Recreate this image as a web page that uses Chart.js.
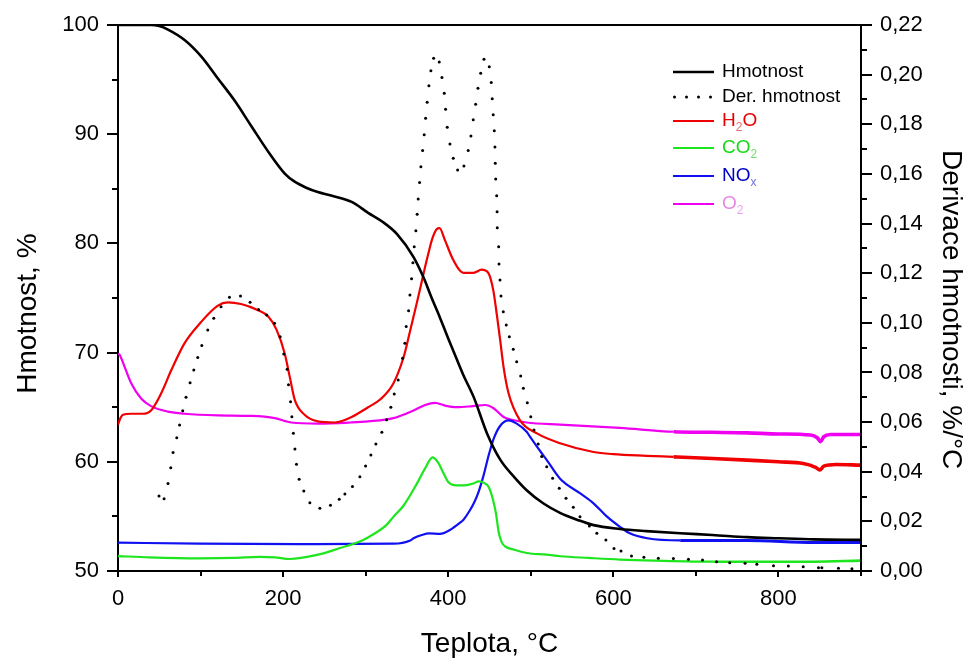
<!DOCTYPE html>
<html lang="cs">
<head>
<meta charset="utf-8">
<title>Hmotnost a vývoj plynů</title>
<script src="https://cdn.jsdelivr.net/npm/chart.js@4/dist/chart.umd.min.js"></script>
<style>
  html, body { margin: 0; padding: 0; background: #ffffff; }
  #wrap { width: 972px; height: 658px; }
</style>
</head>
<body>
<div id="wrap"><canvas id="c" width="972" height="658"></canvas></div>
<script>
// ---- Teplota (°C) a naměřené hodnoty ----
const massT   = [0, 20, 40, 50, 60, 81, 101, 121, 141, 161, 182, 202, 214, 228, 242, 257, 283, 303, 320, 338, 358, 370, 380, 390, 400, 406, 418, 431, 447, 463, 480, 495, 515, 536, 556, 576, 608, 640, 681, 720, 762, 800, 843, 900];
const massVal = [100, 100, 100, 99.9, 99.6, 98.6, 97.1, 95.1, 93.1, 90.8, 88.4, 86.4, 85.65, 85.1, 84.7, 84.4, 83.8, 82.8, 82.0, 80.85, 78.75, 76.9, 75.0, 73.2, 71.3, 70.2, 68.0, 65.9, 62.6, 60.2, 58.6, 57.4, 56.2, 55.3, 54.7, 54.2, 53.85, 53.65, 53.45, 53.3, 53.1, 53.0, 52.9, 52.85];

const derT   = [49.7, 55.8, 60.6, 63.9, 66.7, 71.2, 74.6, 78.4, 82.4, 87.3, 91.8, 96.6, 101.5, 108.7, 116.0, 124.8, 135.0, 148.4, 160.0, 170.2, 180.2, 189.6, 196.4, 200.8, 204.9, 206.5, 209.0, 210.6, 212.4, 214.3, 216.2, 219.4, 225.1, 232.4, 244.5, 257.4, 268.0, 274.8, 284.0, 293.0, 299.9, 306.3, 312.4, 319.6, 325.3, 330.5, 334.6, 339.4, 344.7, 347.5, 349.1, 352.0, 353.6, 355.6, 357.2, 358.8, 360.8, 362.4, 363.6, 365.3, 366.9, 369.0, 370.9, 372.6, 374.5, 376.6, 379.0, 382.3, 389.1, 392.4, 395.2, 396.8, 398.8, 402.1, 406.1, 411.4, 419.0, 424.2, 427.5, 430.3, 433.2, 436.0, 439.3, 443.3, 449.7, 452.1, 453.3, 454.5, 455.8, 456.6, 457.0, 457.5, 458.7, 459.2, 459.4, 461.1, 461.5, 462.7, 463.9, 466.7, 470.3, 474.0, 478.8, 482.9, 487.8, 491.0, 495.8, 500.0, 503.9, 509.0, 513.2, 519.3, 526.5, 534.5, 542.7, 551.5, 559.6, 571.0, 580.0, 591.0, 600.8, 609.3, 622, 637, 654.5, 672.7, 691, 708, 725, 741, 759.6, 773.8, 794, 812, 830, 848.5, 852.6, 872.7, 889];
const derVal = [0.0302, 0.0291, 0.0353, 0.0416, 0.0477, 0.0537, 0.0588, 0.0646, 0.0700, 0.0759, 0.0810, 0.0860, 0.0909, 0.0971, 0.1018, 0.1065, 0.1103, 0.1108, 0.1083, 0.1054, 0.1032, 0.0998, 0.0944, 0.0874, 0.0813, 0.0750, 0.0682, 0.0622, 0.0555, 0.0492, 0.0430, 0.0370, 0.0322, 0.0275, 0.0253, 0.0265, 0.0289, 0.0310, 0.0340, 0.0380, 0.0423, 0.0467, 0.0512, 0.0559, 0.0609, 0.0660, 0.0713, 0.0770, 0.0857, 0.0918, 0.0985, 0.1049, 0.1112, 0.1178, 0.1242, 0.1307, 0.1371, 0.1437, 0.1499, 0.1565, 0.1629, 0.1694, 0.1758, 0.1824, 0.1889, 0.1955, 0.2016, 0.2066, 0.2051, 0.1988, 0.1925, 0.1861, 0.1788, 0.1721, 0.1663, 0.1616, 0.1632, 0.1694, 0.1753, 0.1818, 0.1881, 0.1945, 0.2006, 0.2062, 0.2032, 0.1968, 0.1903, 0.1838, 0.1774, 0.1708, 0.1643, 0.1579, 0.1512, 0.1448, 0.1383, 0.1307, 0.1237, 0.1173, 0.1108, 0.1045, 0.0991, 0.0944, 0.0893, 0.0843, 0.0786, 0.0736, 0.0678, 0.0622, 0.0568, 0.0512, 0.0461, 0.0420, 0.0374, 0.0333, 0.0293, 0.0257, 0.0219, 0.0181, 0.0152, 0.0125, 0.0091, 0.0081, 0.0060, 0.0055, 0.0051, 0.0050, 0.0047, 0.0044, 0.0037, 0.0033, 0.0031, 0.0027, 0.0021, 0.0020, 0.0017, 0.0013, 0.0013, 0.0011, 0.0009];

const h2oT   = [0, 3, 6, 16, 30, 40, 52.5, 64.6, 80.5, 100.6, 121, 133, 149, 169, 182, 192, 202, 208, 214, 226, 242, 262.6, 283, 303, 317.5, 333.7, 346, 352, 358, 364, 370, 376, 381, 386, 389.5, 396, 406, 418.5, 430.7, 440.5, 448.5, 454.6, 459, 463, 467, 473, 487, 507.5, 535.5, 576, 600, 640, 673, 720, 762, 800, 830, 845, 850, 855, 870, 899];
const h2oVal = [63.4, 64.0, 64.3, 64.4, 64.4, 64.7, 66.3, 68.4, 70.85, 72.8, 74.3, 74.6, 74.45, 73.9, 73.3, 72.1, 69.9, 67.8, 65.7, 64.3, 63.7, 63.6, 64.1, 65.0, 65.7, 67.2, 69.6, 71.4, 73.3, 75.2, 77.2, 79.1, 80.5, 81.3, 81.4, 80.3, 78.5, 77.3, 77.3, 77.6, 77.3, 75.7, 73.4, 71.1, 68.7, 66.3, 63.8, 62.6, 61.7, 60.9, 60.7, 60.55, 60.45, 60.3, 60.15, 60.0, 59.85, 59.5, 59.25, 59.6, 59.75, 59.7];

const co2T   = [0, 38, 99, 140, 172, 190, 208, 241, 269, 293, 301, 325, 334, 346, 362, 372, 381, 388, 394, 400, 410, 420, 430, 437, 444, 449, 454, 458, 461, 465, 470, 480, 495, 519, 536, 570, 608, 650, 721, 842, 899];
const co2Val = [51.37, 51.25, 51.16, 51.2, 51.3, 51.25, 51.1, 51.47, 52.1, 52.7, 53.0, 54.2, 55.0, 56.0, 58.0, 59.4, 60.4, 59.9, 59.0, 58.15, 57.85, 57.85, 58.0, 58.2, 58.05, 57.7, 56.6, 55.2, 53.6, 52.6, 52.2, 51.95, 51.65, 51.5, 51.35, 51.2, 51.05, 50.95, 50.85, 50.85, 50.95];

const noxT   = [0, 99, 220, 334, 354, 358, 368, 377, 390, 402, 414, 418.5, 425, 431, 437, 443, 449, 455, 463, 473, 483, 495, 499, 515, 519, 535.5, 560, 576, 592, 608, 620, 641, 681, 762, 843, 899];
const noxVal = [52.6, 52.5, 52.47, 52.5, 52.8, 53.0, 53.3, 53.45, 53.4, 53.75, 54.4, 54.7, 55.4, 56.2, 57.3, 58.8, 60.6, 62.1, 63.3, 63.8, 63.5, 62.75, 62.3, 60.6, 60.2, 58.45, 57.1, 56.2, 55.0, 54.05, 53.45, 53.0, 52.8, 52.8, 52.6, 52.6];

const o2T   = [0, 2, 8, 16, 28, 40, 60.5, 80.5, 121, 161.6, 190, 210, 242, 282, 303, 333.7, 358, 372, 384, 396, 410.5, 430, 444.8, 455, 467, 480, 495, 535.5, 608, 673, 720, 762, 800, 839, 847, 851, 855, 863, 899];
const o2Val = [69.9, 69.8, 68.7, 67.2, 65.8, 65.1, 64.6, 64.4, 64.25, 64.2, 64.0, 63.6, 63.5, 63.6, 63.7, 64.0, 64.7, 65.2, 65.4, 65.15, 65.0, 65.1, 65.2, 64.9, 64.1, 63.8, 63.6, 63.4, 63.1, 62.75, 62.7, 62.65, 62.55, 62.45, 62.2, 61.85, 62.3, 62.5, 62.5];

// ---- osy: hlavní a vedlejší dílky ----
const xTicks      = [0, 200, 400, 600, 800];
const xMinor      = [100, 300, 500, 700, 900];
const massTicks   = [50, 60, 70, 80, 90, 100];
const massMinor   = [55, 65, 75, 85, 95];
const derTicks    = [0, 0.02, 0.04, 0.06, 0.08, 0.10, 0.12, 0.14, 0.16, 0.18, 0.20, 0.22];
const derMinor    = [0.01, 0.03, 0.05, 0.07, 0.09, 0.11, 0.13, 0.15, 0.17, 0.19, 0.21];

const FONT = '"Liberation Sans", Arial, Helvetica, sans-serif';

const pts = (xs, ys) => xs.map((x, i) => ({ x, y: ys[i] }));
const noisyFrom = (t, thin, thick) => ctx => (ctx.p0.parsed.x >= t ? thick : thin);

// vedlejší dílky a horní rámeček
const frameAndMinor = {
  id: 'frameAndMinor',
  afterDraw(chart) {
    const { ctx, chartArea: a, scales } = chart;
    ctx.save();
    ctx.strokeStyle = '#000';
    ctx.lineWidth = 2;
    ctx.beginPath();
    ctx.moveTo(a.left - 1, a.top);
    ctx.lineTo(a.right + 1, a.top);
    const xs = scales.x, yl = scales.y, yr = scales.y1;
    xMinor.forEach(v => { const p = Math.round(xs.getPixelForValue(v)); ctx.moveTo(p, a.bottom); ctx.lineTo(p, a.bottom + 5); });
    massMinor.forEach(v => { const p = Math.round(yl.getPixelForValue(v)); ctx.moveTo(a.left, p); ctx.lineTo(a.left - 6, p); });
    derMinor.forEach(v => { const p = Math.round(yr.getPixelForValue(v)); ctx.moveTo(a.right, p); ctx.lineTo(a.right + 6, p); });
    ctx.stroke();
    ctx.restore();
  }
};

// legenda uvnitř grafu, s dolními indexy
const SUBS = { '₂': '2', 'ₓ': 'x' };
const insetLegend = {
  id: 'insetLegend',
  afterDraw(chart, args, o) {
    const ctx = chart.ctx;
    ctx.save();
    ctx.textBaseline = 'middle';
    ctx.textAlign = 'left';
    chart.data.datasets.forEach((ds, i) => {
      const y = o.rows[i];
      if (ds.showLine === false) {
        ctx.fillStyle = ds.pointBackgroundColor;
        for (let k = 0; k < 4; k++) {
          ctx.beginPath();
          ctx.arc(o.x0 + 1.5 + k * 12, y, 1.5, 0, Math.PI * 2);
          ctx.fill();
        }
      } else {
        ctx.strokeStyle = ds.borderColor;
        ctx.lineWidth = ds.borderWidth;
        ctx.beginPath();
        ctx.moveTo(o.x0, y);
        ctx.lineTo(o.x1, y);
        ctx.stroke();
      }
      // rozdělení popisku na běžný text a indexy
      const runs = [];
      for (const ch of ds.label) {
        const sub = SUBS[ch] !== undefined;
        const t = sub ? SUBS[ch] : ch;
        if (runs.length && runs[runs.length - 1].sub === sub) runs[runs.length - 1].t += t;
        else runs.push({ sub, t });
      }
      let x = o.textX;
      runs.forEach(r => {
        ctx.font = r.sub ? o.subFont : o.font;
        ctx.fillStyle = r.sub ? o.subColors[i] : o.colors[i];
        ctx.fillText(r.t, x, r.sub ? y + o.subShift : y);
        x += ctx.measureText(r.t).width;
      });
    });
    ctx.restore();
  }
};

const tickFont = { family: FONT, size: 22 };
const titleFont = { family: FONT, size: 28, lineHeight: 1 };

new Chart(document.getElementById('c'), {
  type: 'line',
  data: {
    datasets: [
      { label: 'Hmotnost', data: pts(massT, massVal), yAxisID: 'y',
        borderColor: '#000000', borderWidth: 2.6, pointRadius: 0, cubicInterpolationMode: 'monotone' },
      { label: 'Der. hmotnost', data: pts(derT, derVal), yAxisID: 'y1', showLine: false,
        pointRadius: 1.5, pointBorderWidth: 0, pointBackgroundColor: '#000000', pointStyle: 'circle',
        borderColor: '#000000' },
      { label: 'H₂O', data: pts(h2oT, h2oVal), yAxisID: 'y',
        borderColor: '#f00000', borderWidth: 2.2, pointRadius: 0, cubicInterpolationMode: 'monotone',
        segment: { borderWidth: noisyFrom(673, 2.2, 3.6) } },
      { label: 'CO₂', data: pts(co2T, co2Val), yAxisID: 'y',
        borderColor: '#1ee61e', borderWidth: 2.2, pointRadius: 0, cubicInterpolationMode: 'monotone',
        segment: { borderWidth: noisyFrom(673, 2.2, 2.6) } },
      { label: 'NOₓ', data: pts(noxT, noxVal), yAxisID: 'y',
        borderColor: '#1010f0', borderWidth: 2.2, pointRadius: 0, cubicInterpolationMode: 'monotone',
        segment: { borderWidth: noisyFrom(673, 2.2, 3.0) } },
      { label: 'O₂', data: pts(o2T, o2Val), yAxisID: 'y',
        borderColor: '#f000f0', borderWidth: 2.2, pointRadius: 0, cubicInterpolationMode: 'monotone',
        segment: { borderWidth: noisyFrom(673, 2.2, 3.6) } }
    ]
  },
  options: {
    responsive: false,
    animation: false,
    devicePixelRatio: 1,
    layout: { padding: { top: 25, left: 0, right: 0, bottom: 0 } },
    plugins: {
      legend: { display: false },
      tooltip: { enabled: false },
      insetLegend: {
        x0: 673, x1: 714, textX: 722,
        rows: [72, 97, 121, 148, 176, 204],
        font: '19px ' + FONT, subFont: '12px ' + FONT, subShift: 7,
        colors: ['#000000', '#000000', '#e80000', '#18d818', '#0000c8', '#e48ae4'],
        subColors: ['#000000', '#000000', '#f06a6a', '#70dc70', '#7070e0', '#eaa2ea']
      }
    },
    scales: {
      x: {
        type: 'linear', position: 'bottom', min: 0, max: 900,
        afterFit: s => { s.height = 87; },
        afterBuildTicks: s => { s.ticks = xTicks.map(v => ({ value: v })); },
        ticks: { font: tickFont, color: '#000', padding: 9, maxRotation: 0, autoSkip: false },
        grid: { drawOnChartArea: false, drawTicks: true, tickLength: 6, color: '#000', lineWidth: 2 },
        border: { display: true, color: '#000', width: 2 },
        title: { display: true, text: 'Teplota, °C', font: titleFont, color: '#000', padding: { top: 0, bottom: 0 } }
      },
      y: {
        type: 'linear', position: 'left', min: 50, max: 100,
        afterFit: s => { s.width = 118; },
        afterBuildTicks: s => { s.ticks = massTicks.map(v => ({ value: v })); },
        ticks: { font: tickFont, color: '#000', padding: 8, autoSkip: false },
        grid: { drawOnChartArea: false, drawTicks: true, tickLength: 11, color: '#000', lineWidth: 2 },
        border: { display: true, color: '#000', width: 2 },
        title: { display: true, text: 'Hmotnost, %    ', font: titleFont, color: '#000', padding: { top: 14, bottom: 0 } }
      },
      y1: {
        type: 'linear', position: 'right', min: 0, max: 0.22,
        afterFit: s => { s.width = 111; },
        afterBuildTicks: s => { s.ticks = derTicks.map(v => ({ value: v })); },
        ticks: { font: tickFont, color: '#000', padding: 8, autoSkip: false,
                 callback: v => v.toFixed(2).replace('.', ',') },
        grid: { drawOnChartArea: false, drawTicks: true, tickLength: 11, color: '#000', lineWidth: 2 },
        border: { display: true, color: '#000', width: 2 },
        title: { display: true, text: '   Derivace hmotnosti, %/°C', font: titleFont, color: '#000', padding: { top: 7, bottom: 0 } }
      }
    }
  },
  plugins: [frameAndMinor, insetLegend]
});
</script>
</body>
</html>
